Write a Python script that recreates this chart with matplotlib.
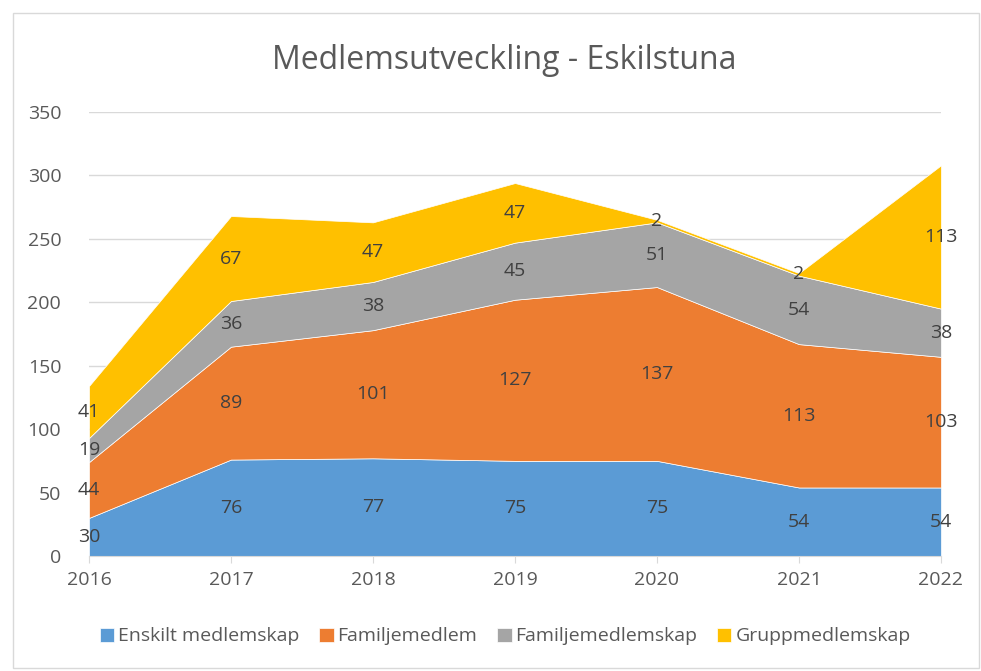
import numpy as np
import matplotlib.pyplot as plt
from matplotlib.patches import Rectangle

years = [2016, 2017, 2018, 2019, 2020, 2021, 2022]
enskilt = [30, 76, 77, 75, 75, 54, 54]
familjemedlem = [44, 89, 101, 127, 137, 113, 103]
familjemedlemskap = [19, 36, 38, 45, 51, 54, 38]
grupp = [41, 67, 47, 47, 2, 2, 113]

series = [enskilt, familjemedlem, familjemedlemskap, grupp]
names = ["Enskilt medlemskap", "Familjemedlem", "Familjemedlemskap", "Gruppmedlemskap"]
colors = ["#5B9BD5", "#ED7D31", "#A5A5A5", "#FFC000"]
txt = "#595959"

plt.rcParams['font.family'] = ['Open Sans', 'DejaVu Sans']

fig = plt.figure(figsize=(9.81, 6.71), dpi=100)
fig.patches.append(Rectangle((0.013, 0.005), 0.985, 0.975, transform=fig.transFigure,
                             fill=False, edgecolor="#D9D9D9", linewidth=1))
ax = fig.add_axes([0.0907, 0.1714, 0.8685, 0.6617])

x = np.arange(len(years))
ax.stackplot(x, *series, colors=colors, labels=names, edgecolor="white", linewidth=0.5, zorder=2)

# data labels in the middle of each band
bottom = np.zeros(len(years))
for vals in series:
    vals = np.array(vals)
    for i in range(len(years)):
        ax.text(x[i], bottom[i] + vals[i] / 2, str(vals[i]), ha="center", va="center",
                fontsize=14, color="#404040", zorder=3)
    bottom += vals

ax.set_xlim(0, len(years) - 1)
ax.set_ylim(0, 350)
ax.set_yticks(range(0, 351, 50))
ax.set_xticks(x)
ax.set_xticklabels(years)
ax.yaxis.grid(True, color="#D9D9D9", linewidth=1, zorder=0)
ax.set_axisbelow(True)
for s in ["top", "right", "left"]:
    ax.spines[s].set_visible(False)
ax.spines["bottom"].set_color("#D9D9D9")
ax.tick_params(axis="y", length=0, labelsize=14, labelcolor=txt, pad=20)
ax.tick_params(axis="x", length=5, color="#D9D9D9", labelsize=14, labelcolor=txt, pad=6)

fig.text(0.514, 0.91, "Medlemsutveckling - Eskilstuna", fontsize=23, color=txt,
         ha="center", va="center")

fig.legend(loc="lower center", bbox_to_anchor=(0.515, 0.012), ncol=4, frameon=False,
           fontsize=14, labelcolor=txt, handlelength=0.75, handleheight=0.75,
           handletextpad=0.2, columnspacing=1.0)

fig.savefig("out.png", dpi=100)
